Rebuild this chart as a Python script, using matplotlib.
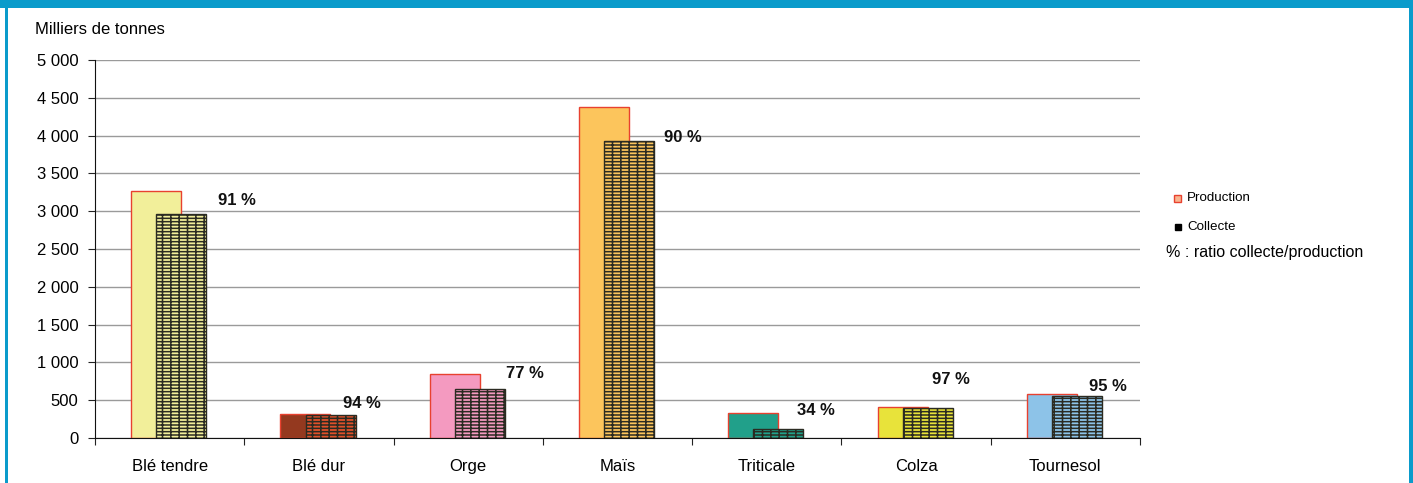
import numpy as np
import matplotlib
matplotlib.use('Agg')
import matplotlib.pyplot as plt
from matplotlib.patches import Rectangle

plt.rcParams['font.family'] = ['Liberation Sans', 'DejaVu Sans']
plt.rcParams['hatch.linewidth'] = 1.1

cultures = ['Blé tendre', 'Blé dur', 'Orge', 'Maïs', 'Triticale', 'Colza', 'Tournesol']
production = [3265, 317, 847, 4378, 331, 410, 582]
collecte = [2963, 304, 652, 3929, 113, 397, 556]
ratios = ['91 %', '94 %', '77 %', '90 %', '34 %', '97 %', '95 %']

prod_colors = ['#F2EF9A', '#94391F', '#F49AC0', '#FCC55C', '#21A08A', '#E8E33A', '#8DC3E8']
coll_colors = ['#F2EF9A', '#E0502A', '#F49AC0', '#FCC55C', '#21A08A', '#E8E33A', '#8DC3E8']
# where each ratio label sits, in pixels from the top-right corner of the collecte bar
label_dx = [12, -13, 1, 10, -6, -21, -13]
label_dy = [13, 12, 15, 3, 19, 28, 9]

fig = plt.figure(figsize=(14.13, 4.83), dpi=100)
ax = fig.add_axes([0.0672, 0.0932, 0.7396, 0.7826])

x = np.arange(len(cultures))
w = 0.335
ax.bar(x - 0.09, production, w, color=prod_colors, edgecolor='#E8412F', linewidth=1, zorder=2)
ax.bar(x + 0.078, collecte, w, color=coll_colors, edgecolor='#2B2B22', linewidth=1,
       hatch='-----||', zorder=3)

for i in range(len(cultures)):
    ax.annotate(ratios[i], (x[i] + 0.078 + w / 2, collecte[i]),
                xytext=(label_dx[i] * 0.72, label_dy[i] * 0.72), textcoords='offset points',
                ha='left', va='center', fontsize=12, fontweight='bold', color='#111111')

ax.set_xlim(-0.5, 6.5)
ax.set_ylim(0, 5000)
yt = np.arange(0, 5001, 500)
ax.set_yticks(yt)
ax.set_yticklabels([f'{v:,}'.replace(',', ' ') for v in yt], fontsize=12)
ax.yaxis.grid(True, color='#9A9A9A', linewidth=1)
ax.set_axisbelow(True)

ax.set_xticks(np.arange(-0.5, 7, 1))
ax.set_xticklabels([])
ax.set_xticks(x, minor=True)
ax.set_xticklabels(cultures, minor=True, fontsize=12)
ax.tick_params(axis='x', which='minor', length=0, pad=15)
ax.tick_params(axis='x', which='major', length=5, direction='out', color='#222222')
ax.tick_params(axis='y', length=5, direction='out', pad=7, color='#222222')

for s in ['top', 'right']:
    ax.spines[s].set_visible(False)
ax.spines['left'].set_color('#111111')
ax.spines['bottom'].set_color('#111111')

fig.text(35 / 1413, 1 - 30 / 483, 'Milliers de tonnes', fontsize=12, va='center', ha='left')

# legend
fig.add_artist(Rectangle((1174 / 1413, 1 - 202 / 483), 7 / 1413, 7 / 483,
                         transform=fig.transFigure, facecolor='#F9B58F', edgecolor='#E8412F', lw=1))
fig.text(1187 / 1413, 1 - 198 / 483, 'Production', fontsize=9.6, va='center')
fig.add_artist(Rectangle((1175 / 1413, 1 - 230 / 483), 6 / 1413, 6 / 483,
                         transform=fig.transFigure, facecolor='#000000', edgecolor='#000000', lw=1))
fig.text(1187 / 1413, 1 - 227 / 483, 'Collecte', fontsize=9.6, va='center')
fig.text(1166 / 1413, 1 - 253 / 483, '% : ratio collecte/production', fontsize=11.5, va='center')

# blue frame
blue = '#0A9BCB'
fig.add_artist(Rectangle((0, 1 - 8 / 483), 1, 8 / 483, transform=fig.transFigure,
                         facecolor=blue, edgecolor='none'))
fig.add_artist(Rectangle((5 / 1413, 0), 3 / 1413, 1, transform=fig.transFigure,
                         facecolor=blue, edgecolor='none'))
fig.add_artist(Rectangle((1409 / 1413, 0), 4 / 1413, 1, transform=fig.transFigure,
                         facecolor=blue, edgecolor='none'))

fig.savefig('out.png', dpi=100)
